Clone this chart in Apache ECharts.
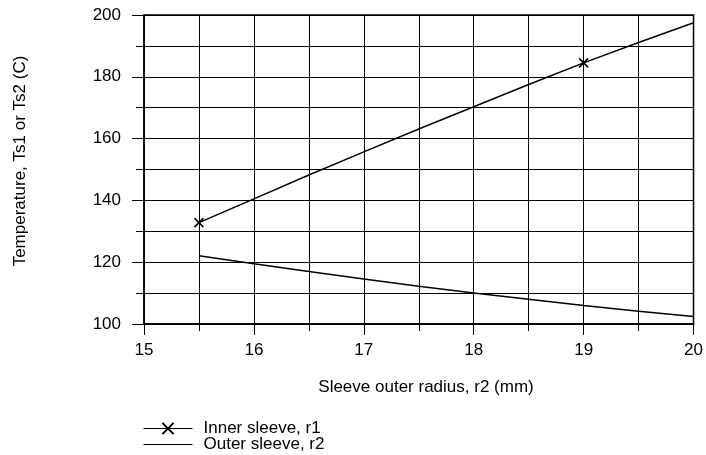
<!DOCTYPE html>
<html>
<head>
<meta charset="utf-8">
<script src="https://cdn.jsdelivr.net/npm/echarts@6/dist/echarts.min.js"></script>
<style>html,body{margin:0;padding:0;background:#fff}#c{width:706px;height:455px}</style>
</head>
<body>
<div id="c"></div>
<script>
var radius = [15.5, 16, 16.5, 17, 17.5, 18, 18.5, 19, 19.5, 20];
var innerTemp = [132.8, 140.5, 148.2, 155.7, 163.1, 170.3, 177.5, 184.5, 191.1, 197.5];
var outerTemp = [122.1, 119.5, 117.0, 114.6, 112.2, 110.0, 108.0, 106.0, 104.1, 102.4];
var innerMarkerX = [15.5, 19];
var seriesNames = ['Inner sleeve, r1', 'Outer sleeve, r2'];
var xTitle = 'Sleeve outer radius, r2 (mm)';
var yTitle = 'Temperature, Ts1 or Ts2 (C)';

var X_PATH = 'path://M0,0L10,10M10,0L0,10';
var FONT = 'Liberation Sans, Arial, sans-serif';
var FS = 17;

var innerData = radius.map(function (x, i) {
  return {
    value: [x, innerTemp[i]],
    symbol: innerMarkerX.indexOf(x) >= 0 ? X_PATH : 'none'
  };
});
var outerData = radius.map(function (x, i) { return [x, outerTemp[i]]; });

var chart = echarts.init(document.getElementById('c'), null, {renderer: 'canvas'});
chart.setOption({
  animation: false,
  backgroundColor: '#fff',
  textStyle: {fontFamily: FONT, color: '#000'},
  grid: {left: 144, top: 15, right: 10, bottom: 131, show: true, borderColor: '#000', borderWidth: 1.5, backgroundColor: 'transparent'},
  graphic: [
    {type: 'text', x: 426, y: 387, style: {text: xTitle, font: FS + 'px ' + FONT, fill: '#000', align: 'center', verticalAlign: 'middle'}},
    {type: 'text', x: 20, y: 161, rotation: Math.PI / 2, style: {text: yTitle, font: FS + 'px ' + FONT, fill: '#000', align: 'center', verticalAlign: 'middle'}}
  ],
  legend: {
    left: 143, top: 420, height: 40, orient: 'vertical', itemWidth: 49, itemHeight: 14, itemGap: -1,
    textStyle: {fontFamily: FONT, fontSize: FS, color: '#000', lineHeight: 14, padding: [0, 0, 0, 6]},
    lineStyle: {width: 1},
    padding: 0,
    data: [
      {name: seriesNames[0]},
      {name: seriesNames[1], itemStyle: {color: 'rgba(0,0,0,0)', borderColor: 'rgba(0,0,0,0)', borderWidth: 0}}
    ]
  },
  xAxis: {
    type: 'value', min: 15, max: 20, interval: 1,
    axisLine: {show: true, lineStyle: {color: '#000', width: 1.5}},
    axisTick: {show: true, length: 11, lineStyle: {color: '#000', width: 1}},
    minorTick: {show: true, splitNumber: 2, length: 7, lineStyle: {color: '#000', width: 1}},
    splitLine: {show: true, lineStyle: {color: '#000', width: 1}},
    minorSplitLine: {show: true, lineStyle: {color: '#000', width: 1}},
    axisLabel: {fontFamily: FONT, fontSize: FS, color: '#000', margin: 18}
  },
  yAxis: {
    type: 'value', min: 100, max: 200, interval: 20,
    axisLine: {show: true, lineStyle: {color: '#000', width: 1.5}},
    axisTick: {show: true, length: 12, lineStyle: {color: '#000', width: 1}},
    minorTick: {show: true, splitNumber: 2, length: 8, lineStyle: {color: '#000', width: 1}},
    splitLine: {show: true, lineStyle: {color: '#000', width: 1}},
    minorSplitLine: {show: true, lineStyle: {color: '#000', width: 1}},
    axisLabel: {fontFamily: FONT, fontSize: FS, color: '#000', margin: 23}
  },
  series: [
    {
      name: seriesNames[0], type: 'line', data: innerData,
      symbol: X_PATH, symbolSize: 9, showAllSymbol: true,
      lineStyle: {color: '#000', width: 1.5},
      itemStyle: {color: '#000', borderColor: '#000', borderWidth: 1.5},
      z: 5
    },
    {
      name: seriesNames[1], type: 'line', data: outerData,
      symbol: 'none', showSymbol: false,
      lineStyle: {color: '#000', width: 1.5},
      itemStyle: {color: '#000'},
      z: 5
    }
  ]
});
</script>
</body>
</html>
